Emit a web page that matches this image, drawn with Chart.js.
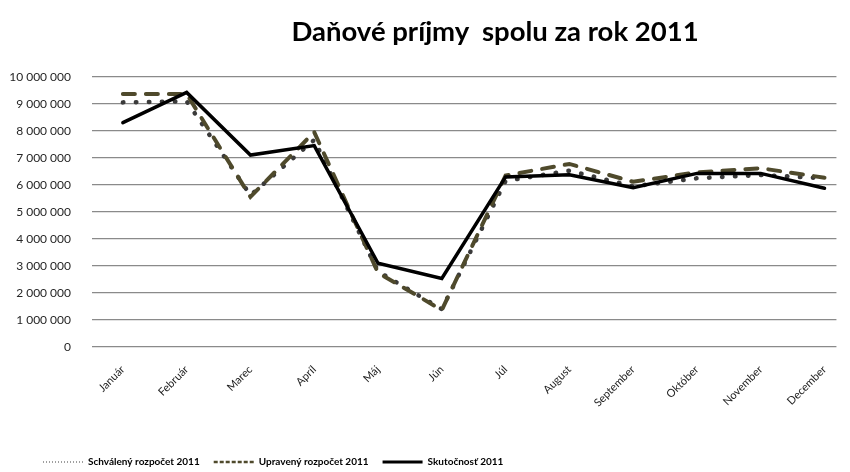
<!DOCTYPE html>
<html>
<head>
<meta charset="utf-8">
<script src="https://cdn.jsdelivr.net/npm/chart.js@4/dist/chart.umd.min.js"></script>
<style>
  html, body { margin: 0; padding: 0; background: #ffffff; overflow: hidden; }
  #wrap { position: relative; width: 850px; height: 472px; }
  #title { position: absolute; left: 195px; width: 600px; top: 15px; line-height: 32px; text-align: center;
           font-family: Lato, sans-serif; font-weight: bold; font-size: 27.5px; color: #000; white-space: nowrap; }
  canvas { position: absolute; left: 0; top: 0; }
</style>
</head>
<body>
<div id="wrap">
  <canvas id="c" width="850" height="472"></canvas>
  <div id="title">Daňové príjmy&nbsp; spolu za rok 2011</div>
</div>
<script>
const months = ['Január','Február','Marec','Apríl','Máj','Jún','Júl','August','September','Október','November','December'];
const seriesNames = ['Schválený rozpočet 2011','Upravený rozpočet 2011','Skutočnosť 2011'];
const schvaleny  = [9060000, 9100000, 5620000, 7670000, 2800000, 1400000, 6150000, 6530000, 5950000, 6250000, 6370000, 6250000];
const upraveny   = [9370000, 9370000, 5560000, 7960000, 2750000, 1370000, 6350000, 6780000, 6120000, 6470000, 6620000, 6270000];
const skutocnost = [8310000, 9430000, 7110000, 7460000, 3100000, 2540000, 6300000, 6380000, 5900000, 6430000, 6430000, 5880000];
const yMin = 0, yMax = 10000000, yStep = 1000000;

const toPts = arr => arr.map((v, i) => ({ x: i, y: v }));
const fmt = v => String(v).replace(/\B(?=(\d{3})+(?!\d))/g, ' ');

const legendStyles = [
  { strokeStyle: '#404040', lineWidth: 1.2, lineDash: [1, 2], lineCap: 'butt' },
  { strokeStyle: '#4f4a2c', lineWidth: 2.5, lineDash: [4, 2], lineCap: 'butt' },
  { strokeStyle: '#000000', lineWidth: 3, lineDash: [], lineCap: 'butt' }
];

// shifts the legend block to where the reference places it
const legendShift = {
  id: 'legendShift',
  afterLayout(chart) {
    const lg = chart.legend;
    if (!lg) return;
    lg.left += 29; lg.right += 29;
    lg.top += 5; lg.bottom += 5;
  }
};

new Chart(document.getElementById('c'), {
  type: 'line',
  data: {
    datasets: [
      { label: seriesNames[0], data: toPts(schvaleny), borderColor: '#3a3a3a', borderWidth: 4.5,
        borderDash: [0.5, 12.5], borderCapStyle: 'round', pointRadius: 0, tension: 0, order: 2 },
      { label: seriesNames[1], data: toPts(upraveny), borderColor: '#4f4a2c', borderWidth: 4,
        borderDash: [12, 11], borderCapStyle: 'round', pointRadius: 0, tension: 0, order: 1 },
      { label: seriesNames[2], data: toPts(skutocnost), borderColor: '#000000', borderWidth: 3.5,
        borderCapStyle: 'round', borderJoinStyle: 'miter', pointRadius: 0, tension: 0, order: 0 }
    ]
  },
  options: {
    responsive: false,
    animation: false,
    events: [],
    layout: { padding: { left: 0, right: 10, top: 77, bottom: 0 } },
    plugins: {
      title: { display: false },
      tooltip: { enabled: false },
      legend: {
        position: 'bottom',
        align: 'start',
        labels: {
          usePointStyle: true,
          pointStyleWidth: 40,
          boxWidth: 40,
          padding: 14,
          color: '#000',
          font: { family: 'Lato', size: 10, weight: 'bold' },
          generateLabels: chart => chart.data.datasets.map((ds, i) => Object.assign({
            text: ds.label, fillStyle: 'rgba(0,0,0,0)', pointStyle: 'line', hidden: false,
            datasetIndex: i, fontColor: '#000'
          }, legendStyles[i]))
        }
      }
    },
    scales: {
      x: {
        type: 'linear',
        min: -0.484,
        max: 11.187,
        afterBuildTicks: s => { s.ticks = months.map((m, i) => ({ value: i })); },
        afterFit: s => { s.height = 472 - 347 - s.chart.legend.height; },
        grid: { display: false, drawTicks: false },
        border: { display: false },
        ticks: {
          autoSkip: false, minRotation: 45, maxRotation: 45, padding: 16,
          color: '#222', font: { family: 'Lato', size: 11 },
          callback: v => months[v] !== undefined ? months[v] : ''
        }
      },
      y: {
        min: yMin, max: yMax,
        afterFit: s => { s.width = 92; },
        grid: { color: '#8a8a8a', lineWidth: 1.3, drawTicks: false },
        border: { display: false },
        ticks: {
          stepSize: yStep, padding: 21, color: '#262626',
          font: { family: 'Lato', size: 12 },
          callback: v => fmt(v)
        }
      }
    }
  },
  plugins: [legendShift]
});
</script>
</body>
</html>
